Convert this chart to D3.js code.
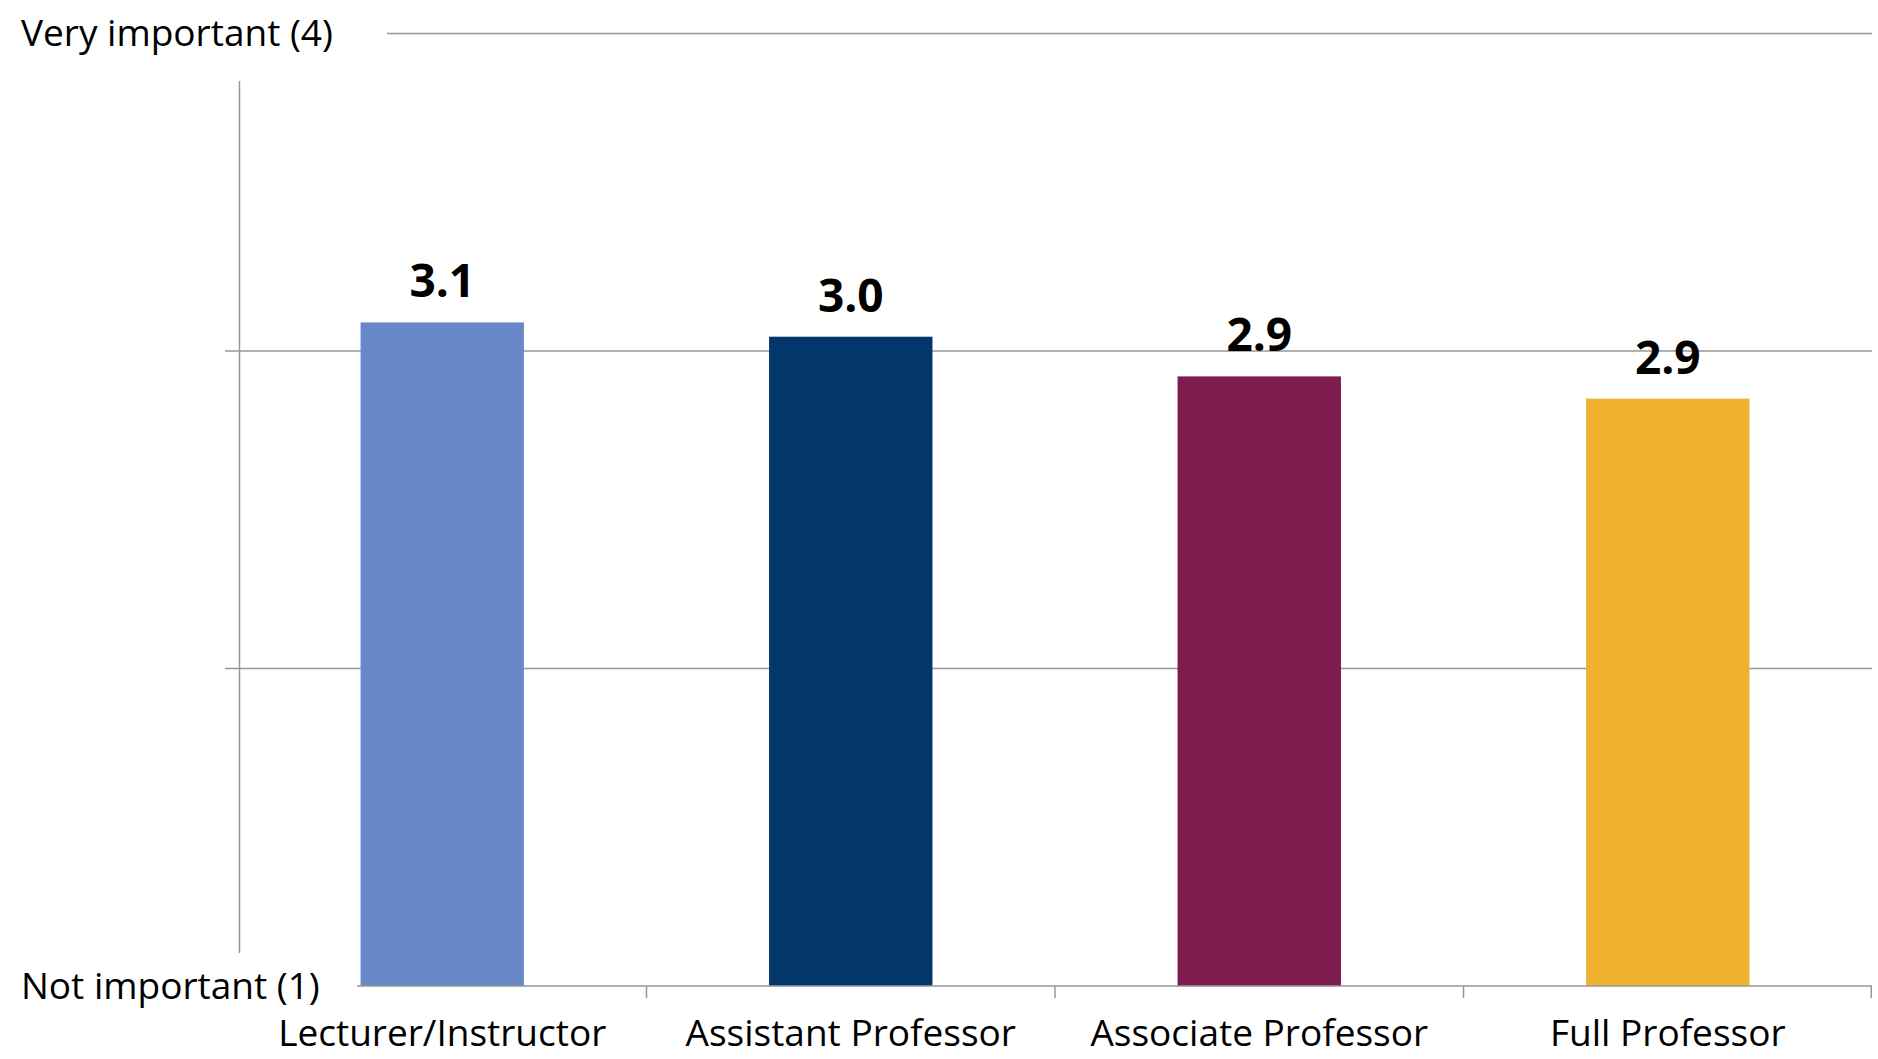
<!DOCTYPE html>
<html>
<head>
<meta charset="utf-8">
<script src="https://cdn.jsdelivr.net/npm/d3@7"></script>
<style>
  html, body { margin: 0; padding: 0; background: #ffffff; }
  svg { display: block; }
  text { font-family: "Open Sans", "Noto Sans", sans-serif; fill: #000; }
</style>
</head>
<body>
<svg id="chart" width="1878" height="1059"></svg>
<script>
// ---- data ----
const categories = ["Lecturer/Instructor", "Assistant Professor", "Associate Professor", "Full Professor"];
const values = [3.09, 3.045, 2.92, 2.85];
const valueLabels = ["3.1", "3.0", "2.9", "2.9"];
const colors = ["#6889C9", "#03366A", "#7D1C4F", "#EEB230"];
const yDomain = [1, 4];
const gridValues = [2, 3, 4];
const yEndLabels = [
  { value: 4, label: "Very important (4)" },
  { value: 1, label: "Not important (1)" }
];

// ---- layout ----
const W = 1878, H = 1059;
const plotLeft = 238, plotRight = 1872;
const svg = d3.select("#chart");

const y = d3.scaleLinear().domain(yDomain).range([986, 33.5]);
const xBand = d3.scaleBand().domain(categories).range([plotLeft, plotRight]).padding(0);
const xBar = d3.scaleBand().domain(categories).range([plotLeft, plotRight])
  .paddingInner(0.6).paddingOuter(0.3);

const gridColor = "#979797";

// gridlines
svg.append("g").selectAll("line").data(gridValues).join("line")
  .attr("x1", 225).attr("x2", plotRight)
  .attr("y1", d => y(d)).attr("y2", d => y(d))
  .attr("stroke", gridColor).attr("stroke-width", 1.5);

// vertical axis
svg.append("line")
  .attr("x1", plotLeft + 1.5).attr("x2", plotLeft + 1.5)
  .attr("y1", y(4)).attr("y2", y(1))
  .attr("stroke", gridColor).attr("stroke-width", 1.5);

// bars
svg.append("g").selectAll("rect").data(categories).join("rect")
  .attr("x", d => xBar(d))
  .attr("width", xBar.bandwidth())
  .attr("y", (d, i) => y(values[i]))
  .attr("height", (d, i) => y(yDomain[0]) - y(values[i]))
  .attr("fill", (d, i) => colors[i]);

// baseline with category ticks
const base = svg.append("g");
base.append("line")
  .attr("x1", plotLeft).attr("x2", plotRight)
  .attr("y1", y(1)).attr("y2", y(1))
  .attr("stroke", gridColor).attr("stroke-width", 1.5);
const boundaries = categories.map(c => xBand(c)).concat([plotRight]);
base.selectAll("line.tick").data(boundaries).join("line")
  .attr("class", "tick")
  .attr("x1", d => d === plotRight ? d - 0.75 : d).attr("x2", d => d === plotRight ? d - 0.75 : d)
  .attr("y1", y(1)).attr("y2", y(1) + 12)
  .attr("stroke", gridColor).attr("stroke-width", 1.5);

// y end labels with white background boxes
const boxes = [
  { x: 0, y0: 0, w: 387, h: 81 },
  { x: 0, y0: 953, w: 357, h: 58 }
];
svg.append("g").selectAll("rect").data(boxes).join("rect")
  .attr("x", d => d.x).attr("y", d => d.y0)
  .attr("width", d => d.w).attr("height", d => d.h)
  .attr("fill", "#ffffff");
svg.append("g").selectAll("text").data(yEndLabels).join("text")
  .attr("x", 21)
  .attr("y", d => y(d.value) + 12.5)
  .attr("font-size", 37)
  .text(d => d.label);

// value labels
svg.append("g").selectAll("text").data(categories).join("text")
  .attr("x", d => xBar(d) + xBar.bandwidth() / 2)
  .attr("y", (d, i) => y(values[i]) - 25)
  .attr("text-anchor", "middle")
  .attr("font-weight", "bold")
  .attr("font-size", 46)
  .text((d, i) => valueLabels[i]);

// category labels
svg.append("g").selectAll("text").data(categories).join("text")
  .attr("x", d => xBand(d) + xBand.bandwidth() / 2)
  .attr("y", y(1) + 60)
  .attr("text-anchor", "middle")
  .attr("font-size", 37)
  .text(d => d);
</script>
</body>
</html>
